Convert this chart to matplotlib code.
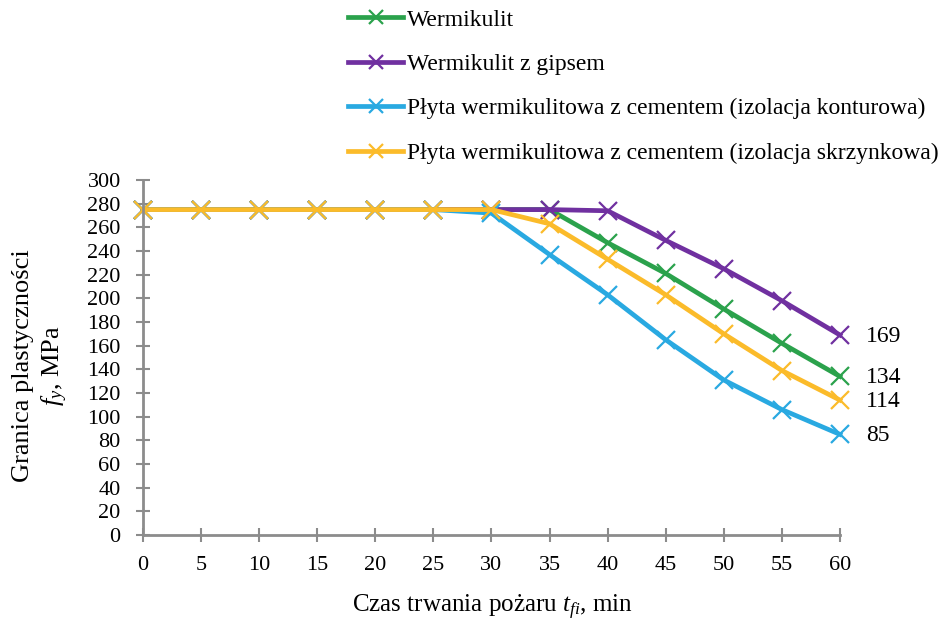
import matplotlib
matplotlib.use("Agg")
import matplotlib.pyplot as plt

plt.rcParams['font.family'] = 'Liberation Serif'
plt.rcParams['mathtext.fontset'] = 'custom'
plt.rcParams['mathtext.rm'] = 'Liberation Serif'
plt.rcParams['mathtext.it'] = 'Liberation Serif:italic'

# Czas trwania pożaru, min
czas = [0, 5, 10, 15, 20, 25, 30, 35, 40, 45, 50, 55, 60]

# Granica plastyczności, MPa
wermikulit = [275, 275, 275, 275, 275, 275, 275, 275, 247, 221, 191, 162, 134]
wermikulit_gips = [275, 275, 275, 275, 275, 275, 275, 275, 274, 249, 225, 198, 169]
plyta_kontur = [275, 275, 275, 275, 275, 275, 272, 237, 203, 165, 131, 106, 85]
plyta_skrzynka = [275, 275, 275, 275, 275, 275, 275, 263, 233, 203, 170, 139, 114]

serie = [
    ("Wermikulit", wermikulit, "#2ba24c"),
    ("Wermikulit z gipsem", wermikulit_gips, "#7030a0"),
    ("Płyta wermikulitowa z cementem (izolacja konturowa)", plyta_kontur, "#29a9e1"),
    ("Płyta wermikulitowa z cementem (izolacja skrzynkowa)", plyta_skrzynka, "#fbbb2a"),
]

fig = plt.figure(figsize=(9.43, 6.22), dpi=100)
ax = fig.add_axes([0.1516, 0.1399, 0.7391, 0.5707])

for nazwa, wartosci, kolor in serie:
    ax.plot(czas, wartosci, color=kolor, linewidth=3.4, marker='x',
            markersize=13, markeredgewidth=1.6, label=nazwa, clip_on=False)

# etykiety wartości końcowych
for _, wartosci, _ in serie:
    ax.annotate(f"{wartosci[-1]}", xy=(czas[-1], wartosci[-1]),
                xytext=(19, -1), textcoords='offset points',
                ha='left', va='center', fontsize=17)

ax.set_xlim(0, 60)
ax.set_ylim(0, 300)
ax.set_xticks(range(0, 61, 5))
ax.set_yticks(range(0, 301, 20))
ax.tick_params(axis='both', labelsize=16, direction='inout', length=10,
               width=1.5, color='#8c8c8c')
ax.tick_params(axis='y', pad=11)
ax.tick_params(axis='x', pad=10)

for s in ['top', 'right']:
    ax.spines[s].set_visible(False)
for s in ['left', 'bottom']:
    ax.spines[s].set_color('#8c8c8c')
    ax.spines[s].set_linewidth(2)

ax.set_xlabel("Czas trwania pożaru $t_{fi}$, min", fontsize=18, va='center')
ax.xaxis.set_label_coords(0.5007, -0.203)
ax.set_ylabel("Granica plastyczności\n$f_y$, MPa", fontsize=19, va='center',
              linespacing=1.3)
ax.yaxis.set_label_coords(-0.146, 0.476)

fig.legend(loc='upper left', bbox_to_anchor=(348 / 943, 1 - 9 / 622), frameon=False,
           fontsize=17, handlelength=2.33, handletextpad=0.15, labelspacing=0.97,
           borderpad=0, borderaxespad=0, markerscale=0.75)

fig.savefig("out.png", dpi=100)
